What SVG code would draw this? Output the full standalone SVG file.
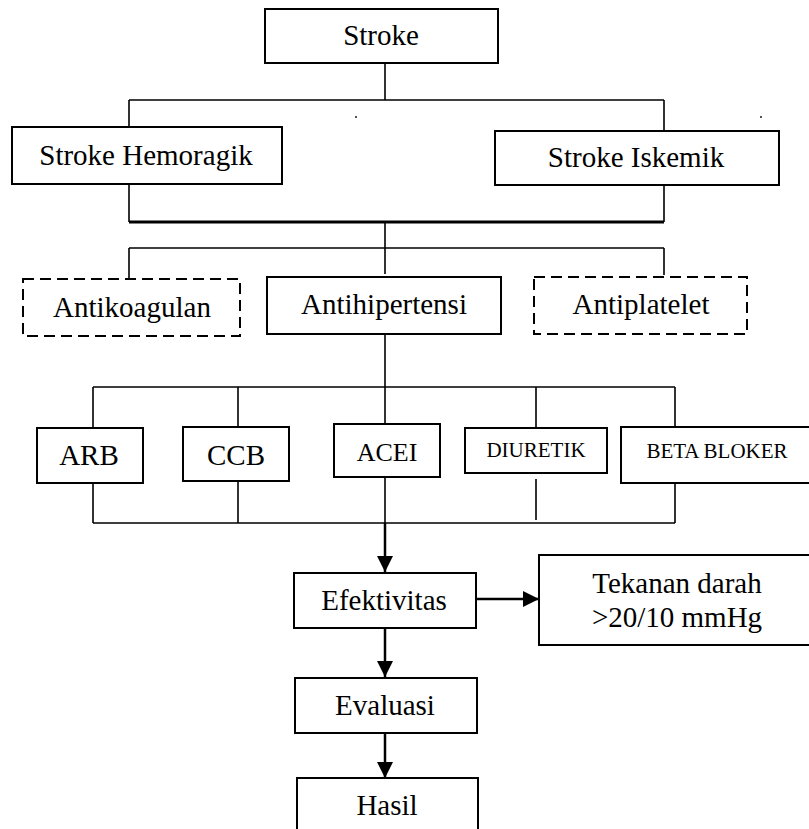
<svg xmlns="http://www.w3.org/2000/svg" width="809" height="829" viewBox="0 0 809 829">
<style>
.box{fill:#fff;stroke:#000;stroke-width:2}
.dash{fill:#fff;stroke:#000;stroke-width:2;stroke-dasharray:11 6}
.ln{fill:none;stroke:#000;stroke-width:1.6}
.t{font-family:"Liberation Serif","Times New Roman",serif;font-size:29px;text-anchor:middle;fill:#000}
.s{font-size:21px}
.m{font-size:26px}
</style>
<defs>
<marker id="ah" markerUnits="userSpaceOnUse" markerWidth="16" markerHeight="16" viewBox="0 0 16 16" refX="16" refY="8" orient="auto">
<path d="M0,0 L16,8 L0,16 Z" fill="#000"/>
</marker>
</defs>
<rect width="809" height="829" fill="#fff"/>
<g id="connectors">
<path class="ln" d="M385,63 V100 M129,100 H664 M129,100 V127 M664,100 V131"/>
<path class="ln" d="M129,184 V222 M664,184 V222"/>
<path d="M129,222 H664" stroke="#000" stroke-width="3"/>
<path class="ln" d="M385,222 V274 M129,248 H664 M129,248 V279 M664,248 V275"/>
<path class="ln" d="M385,334 V424 M93,387 H675 M93,387 V428 M238,387 V427 M536,387 V428 M675,387 V427"/>
<path class="ln" d="M93,483 V523 M238,481 V523 M385,477 V523 M536,479 V520 M675,483 V523 M93,523 H675"/>
<line x1="385" y1="523" x2="385" y2="572" stroke="#000" stroke-width="2.5" marker-end="url(#ah)"/>
<line x1="385" y1="628" x2="385" y2="677" stroke="#000" stroke-width="2.5" marker-end="url(#ah)"/>
<line x1="385" y1="731" x2="385" y2="778" stroke="#000" stroke-width="2.5" marker-end="url(#ah)"/>
<line x1="476" y1="599" x2="539" y2="599" stroke="#000" stroke-width="2.5" marker-end="url(#ah)"/>
<circle cx="356" cy="117" r="0.9" fill="#000"/>
<circle cx="761" cy="117" r="0.9" fill="#000"/>
</g>
<g id="stroke"><rect class="box" x="265" y="9" width="233" height="54"/><text class="t" x="381" y="45">Stroke</text></g>
<g id="hemoragik"><rect class="box" x="12" y="127" width="270" height="57"/><text class="t" x="146" y="165">Stroke Hemoragik</text></g>
<g id="iskemik"><rect class="box" x="495" y="131" width="284" height="54"/><text class="t" x="636" y="167">Stroke Iskemik</text></g>
<g id="antikoagulan"><rect class="dash" x="23" y="279" width="217" height="57"/><text class="t" x="132" y="317">Antikoagulan</text></g>
<g id="antihipertensi"><rect class="box" x="267" y="277" width="234" height="57"/><text class="t" x="384" y="314">Antihipertensi</text></g>
<g id="antiplatelet"><rect class="dash" x="534" y="277" width="213" height="57"/><text class="t" x="641" y="314">Antiplatelet</text></g>
<g id="arb"><rect class="box" x="37" y="428" width="106" height="55"/><text class="t" x="89" y="465">ARB</text></g>
<g id="ccb"><rect class="box" x="183" y="427" width="106" height="54"/><text class="t" x="236" y="465">CCB</text></g>
<g id="acei"><rect class="box" x="334" y="424" width="106" height="53"/><text class="t m" x="387" y="461">ACEI</text></g>
<g id="diuretik"><rect class="box" x="465" y="428" width="142" height="45"/><text class="t s" x="536" y="457">DIURETIK</text></g>
<g id="betabloker"><rect class="box" x="621" y="427" width="200" height="56"/><text class="t s" x="717" y="458">BETA BLOKER</text></g>
<g id="efektivitas"><rect class="box" x="294" y="573" width="182" height="55"/><text class="t" x="384" y="610">Efektivitas</text></g>
<g id="tekanan"><rect class="box" x="539" y="555" width="280" height="90"/><text class="t" x="677" y="593">Tekanan darah</text><text class="t" x="677" y="627">&gt;20/10 mmHg</text></g>
<g id="evaluasi"><rect class="box" x="295" y="678" width="182" height="55"/><text class="t" x="385" y="715">Evaluasi</text></g>
<g id="hasil"><rect class="box" x="297" y="778" width="181" height="70"/><text class="t" x="387" y="815">Hasil</text></g>
</svg>
